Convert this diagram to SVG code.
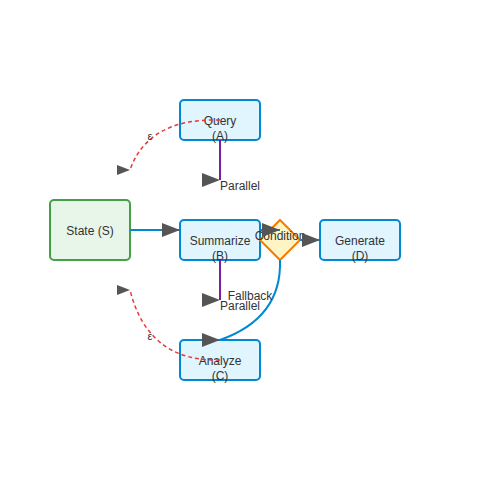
<svg xmlns="http://www.w3.org/2000/svg" width="500" height="500" viewBox="0 0 500 500">
<defs>
<style>
.box{fill:#e1f5fe;stroke:#0288d1;stroke-width:2}
.state{fill:#e8f5e9;stroke:#43a047;stroke-width:2}
.cond{fill:#fff4c4;stroke:#f57c00;stroke-width:2}
text{font-family:"Liberation Sans",Arial,sans-serif;font-size:12px;fill:#333;text-anchor:middle}
.lbl{text-anchor:start}
.eps{font-size:11px}
.blue{fill:none;stroke:#0288d1;stroke-width:2}
.purple{fill:none;stroke:#7b1fa2;stroke-width:2}
.red{fill:none;stroke:#e53935;stroke-width:1.5;stroke-dasharray:4 3}
</style>
<marker id="ah" markerUnits="userSpaceOnUse" markerWidth="18" markerHeight="14" refX="18" refY="7" orient="0">
<path d="M0,0 L18,7 L0,14 Z" fill="#555"/>
</marker>
<marker id="ahs" markerUnits="userSpaceOnUse" markerWidth="13" markerHeight="10" refX="13" refY="5" orient="0">
<path d="M0,0 L13,5 L0,10 Z" fill="#555"/>
</marker>
</defs>
<g id="node-S"><rect class="state" x="50" y="200" width="80" height="60" rx="4"/><text x="90" y="235">State (S)</text></g>
<g id="node-A"><rect class="box" x="180" y="100" width="80" height="40" rx="4"/><text x="220" y="125">Query</text><text x="220" y="140">(A)</text></g>
<g id="node-B"><rect class="box" x="180" y="220" width="80" height="40" rx="4"/><text x="220" y="245">Summarize</text><text x="220" y="260">(B)</text></g>
<g id="node-C"><rect class="box" x="180" y="340" width="80" height="40" rx="4"/><text x="220" y="365">Analyze</text><text x="220" y="380">(C)</text></g>
<g id="node-D"><rect class="box" x="320" y="220" width="80" height="40" rx="4"/><text x="360" y="245">Generate</text><text x="360" y="260">(D)</text></g>
<g id="node-cond"><path class="cond" d="M280,220 L300,240 L280,260 L260,240 Z"/><text x="280" y="240">Condition</text></g>
<g id="connectors">
<path class="blue" d="M130,230 L180,230" marker-end="url(#ah)"/>
<path class="blue" d="M260,230 L280,230" marker-end="url(#ah)"/>
<path class="blue" d="M300,240 L320,240" marker-end="url(#ah)"/>
<path class="blue" d="M280,260 Q282,318 220,340" marker-end="url(#ah)"/>
<text x="250" y="300">Fallback</text>
<path class="purple" d="M220,140 L220,180" marker-end="url(#ah)"/>
<text class="lbl" x="220" y="190">Parallel</text>
<path class="purple" d="M220,260 L220,300" marker-end="url(#ah)"/>
<text class="lbl" x="220" y="310">Parallel</text>
<path class="red" d="M220,120 Q148,118 130,170" marker-end="url(#ahs)"/>
<text class="eps" x="150" y="140">ε</text>
<path class="red" d="M220,360 Q148,362 130,290" marker-end="url(#ahs)"/>
<text class="eps" x="150" y="340">ε</text>
</g>
</svg>
